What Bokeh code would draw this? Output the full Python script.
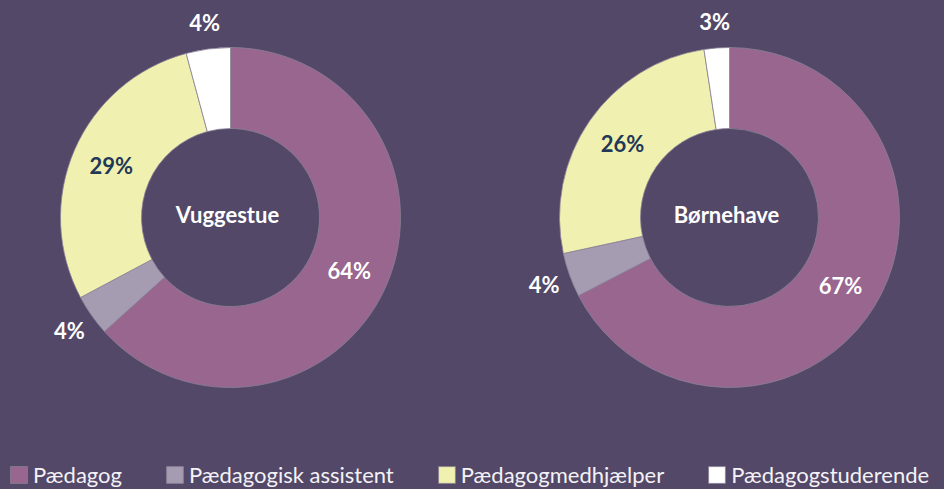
import math
from bokeh.plotting import figure
from bokeh.models import Range1d, Legend, LegendItem, ColumnDataSource
from bokeh.core.properties import value
from bokeh.embed import file_html
from bokeh.resources import INLINE

# ---- data ----
categories = ["Pædagog", "Pædagogisk assistent", "Pædagogmedhjælper", "Pædagogstuderende"]
colors = ["#98668F", "#A69CB2", "#F0F1B0", "#FFFFFF"]
label_colors = ["#FFFFFF", "#FFFFFF", "#233757", "#FFFFFF"]
label_inside = [True, False, True, False]

groups = ["Vuggestue", "Børnehave"]
vuggestue = [63.3, 3.9, 28.6, 4.2]
vuggestue_labels = ["64%", "4%", "29%", "4%"]
boernehave = [67.4, 4.2, 26.0, 2.4]
boernehave_labels = ["67%", "4%", "26%", "3%"]

BG = "#534867"
W, H = 944, 489

p = figure(width=W, height=H, output_backend="svg", toolbar_location=None,
           x_range=Range1d(0, W), y_range=Range1d(0, H),
           min_border=0, outline_line_color=None,
           background_fill_color=BG, border_fill_color=BG)
p.axis.visible = False
p.grid.visible = False

centers = [(230, 272), (729, 272)]
R_OUT, R_IN = 170, 89
R_LAB_IN, R_LAB_OUT = 130, 197

wedge_renderers = []
for (cx, cy), name, vals, labs in zip(centers, groups,
                                      [vuggestue, boernehave],
                                      [vuggestue_labels, boernehave_labels]):
    total = sum(vals)
    starts, ends, lx, ly = [], [], [], []
    cum = 0.0
    for v, inside in zip(vals, label_inside):
        a0 = math.pi / 2 - 2 * math.pi * cum / total
        cum += v
        a1 = math.pi / 2 - 2 * math.pi * cum / total
        starts.append(a0)
        ends.append(a1)
        mid = (a0 + a1) / 2
        r = R_LAB_IN if inside else R_LAB_OUT
        lx.append(cx + r * math.cos(mid))
        ly.append(cy + r * math.sin(mid))
    src = ColumnDataSource(dict(x=[cx] * 4, y=[cy] * 4, start=starts, end=ends,
                                color=colors, lx=lx, ly=ly, lab=labs,
                                lc=label_colors))
    wr = p.annular_wedge(x="x", y="y", inner_radius=R_IN, outer_radius=R_OUT,
                         inner_radius_units="screen", outer_radius_units="screen",
                         start_angle="start", end_angle="end", direction="clock",
                         fill_color="color", line_color="#8A8197", line_width=0.8,
                         source=src)
    wedge_renderers.append(wr)
    p.text(x="lx", y="ly", text="lab", text_color="lc", source=src,
           text_font=value("Lato"), text_font_style="bold",
           text_font_size="22px", text_align="center", text_baseline="middle")
    p.text(x=[cx - 3], y=[cy + 3], text=[name], text_color="#FFFFFF",
           text_font=value("Lato"), text_font_style="bold",
           text_font_size="22px", text_align="center", text_baseline="middle")

# legend (uses the wedge colours of the first donut)
items = [LegendItem(label=cat, renderers=[wedge_renderers[0]], index=i)
         for i, cat in enumerate(categories)]
legend = Legend(items=items, orientation="horizontal", location=(8, 1),
                background_fill_alpha=0, border_line_color=None,
                padding=0, margin=0, spacing=42, label_standoff=4,
                glyph_width=21, glyph_height=21, label_height=21,
                label_text_font="Lato", label_text_font_size="22px",
                label_text_color="#F4F2F6")
p.add_layout(legend, "center")

html = file_html(p, INLINE)
style = "<style>html,body{margin:0;padding:0;background:%s;overflow:hidden}</style>" % BG
html = html.replace("</head>", style + "</head>", 1)
open("out.html", "w").write(html)
